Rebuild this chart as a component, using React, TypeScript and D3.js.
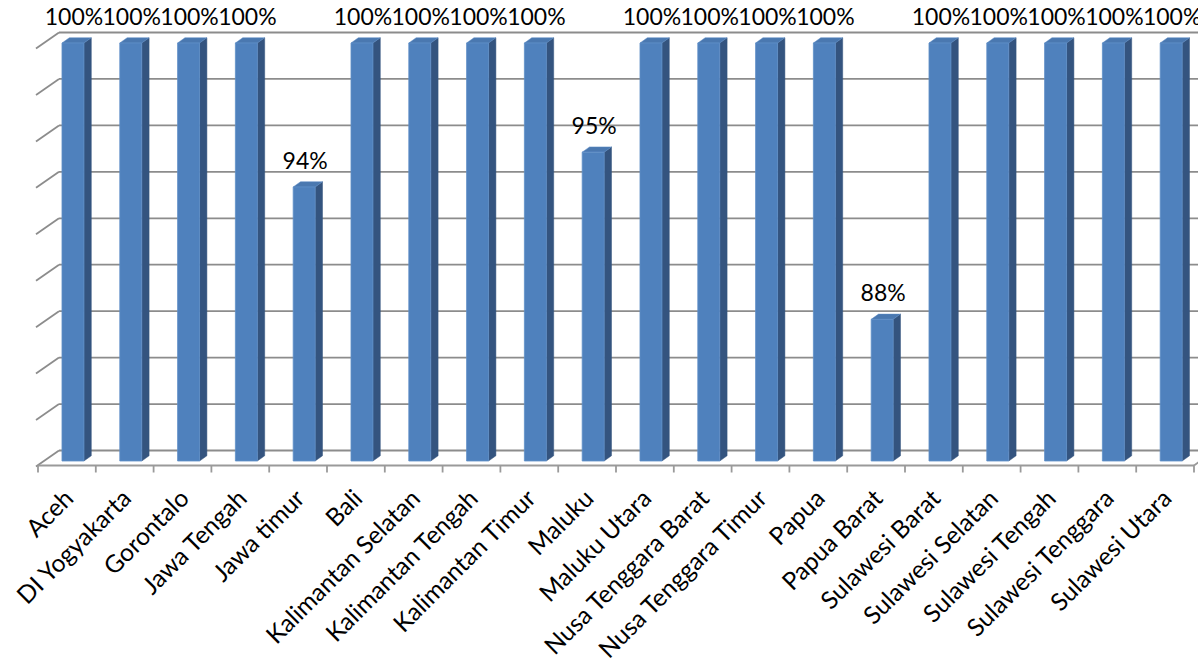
import React from "react";
import * as d3 from "d3";

const categories = [
  "Aceh", "DI Yogyakarta", "Gorontalo", "Jawa Tengah", "Jawa timur", "Bali",
  "Kalimantan Selatan", "Kalimantan Tengah", "Kalimantan Timur", "Maluku",
  "Maluku Utara", "Nusa Tenggara Barat", "Nusa Tenggara Timur", "Papua",
  "Papua Barat", "Sulawesi Barat", "Sulawesi Selatan", "Sulawesi Tengah",
  "Sulawesi Tenggara", "Sulawesi Utara",
];
const values = [
  100, 100, 100, 100, 93.8, 100, 100, 100, 100, 95.3,
  100, 100, 100, 100, 88.1, 100, 100, 100, 100, 100,
];
const axisMin = 82;
const axisMax = 100;

const W = 1198;
const H = 662;
const DX = 21;
const DY = -15;
const T0 = 0.3;
const T1 = 0.65;
const FONT = "Lato, 'Open Sans', sans-serif";

export default function App() {
  const x = d3.scaleBand<string>().domain(categories).range([38, 1194]);
  const y = d3.scaleLinear().domain([axisMin, axisMax]).range([465.5, 47.5]);
  const bw = x.bandwidth();
  const P = (px: number, py: number, t: number) => [px + DX * t, py + DY * t];
  const pts = (arr: number[][]) => arr.map((p) => p.join(",")).join(" ");
  const x0 = x.range()[0];
  const x1 = x.range()[1];
  const yb = y(axisMin);
  const grid = y.ticks(9);
  const fmt = d3.format(".0%");

  return (
    <svg width={W} height={H} style={{ position: "absolute", left: 0, top: 0, background: "#fff" }}>
      {grid.map((g) => {
        const a = P(x0, y(g), 0);
        const b = P(x0, y(g), 1);
        const c = P(x1 + 40, y(g), 1);
        return (
          <g key={g}>
            <line x1={b[0]} y1={b[1]} x2={c[0]} y2={c[1]} stroke="#8c8c8c" strokeWidth={1.8} />
            <line x1={a[0] - 2} y1={a[1] + 1} x2={b[0]} y2={b[1]} stroke="#8c8c8c" strokeWidth={1.8} />
          </g>
        );
      })}
      {(() => {
        const a = P(x0, yb, 0);
        const b = P(x1, yb, 0);
        const c = P(x1, yb, 1);
        return (
          <g>
            <line x1={a[0]} y1={a[1]} x2={b[0]} y2={b[1]} stroke="#9a9a9a" strokeWidth={1.8} />
            <line x1={b[0]} y1={b[1]} x2={c[0]} y2={c[1]} stroke="#9a9a9a" strokeWidth={1.8} />
          </g>
        );
      })()}
      {d3.range(categories.length + 1).map((i) => {
        const tx = x0 + i * bw;
        return <line key={i} x1={tx} y1={yb} x2={tx} y2={yb + 7} stroke="#9a9a9a" strokeWidth={1.8} />;
      })}
      {categories.map((c, i) => {
        const v = values[i];
        const xl = (x(c) as number) + bw * 0.306;
        const xr = xl + bw * 0.38;
        const yt = y(v);
        const front = [P(xl, yt, T0), P(xr, yt, T0), P(xr, yb, T0), P(xl, yb, T0)];
        const side = [P(xr, yt, T0), P(xr, yt, T1), P(xr, yb, T1), P(xr, yb, T0)];
        const top = [P(xl, yt, T0), P(xr, yt, T0), P(xr, yt, T1), P(xl, yt, T1)];
        const lp = P((xl + xr) / 2, yt, T0);
        return (
          <g key={c}>
            <polygon points={pts(side)} fill="#34547f" stroke="#34547f" strokeWidth={0.5} />
            <polygon points={pts(top)} fill="#4a78b0" stroke="#5a8ac4" strokeWidth={0.5} />
            <polygon points={pts(front)} fill="#4f81bd" stroke="#5f8fc8" strokeWidth={0.8} />
            <text x={lp[0] + 1} y={lp[1] - 18} textAnchor="middle" fontFamily={FONT} fontSize={23} fill="#000">
              {fmt(v / 100)}
            </text>
          </g>
        );
      })}
      {categories.map((c) => {
        const cx = (x(c) as number) + bw / 2 + 8;
        const cy = 500;
        return (
          <text key={c} transform={`translate(${cx},${cy}) rotate(-45)`} textAnchor="end" fontFamily={FONT} fontSize={24.5} fill="#000">
            {c}
          </text>
        );
      })}
    </svg>
  );
}
